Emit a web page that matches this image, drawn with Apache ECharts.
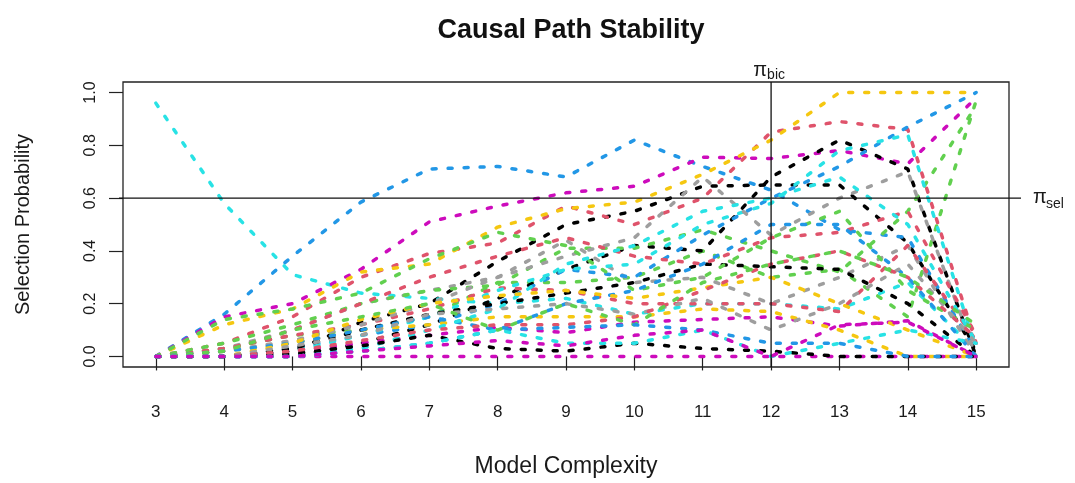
<!DOCTYPE html>
<html>
<head>
<meta charset="utf-8">
<script src="https://cdn.jsdelivr.net/npm/echarts@6/dist/echarts.min.js"></script>
<style>
html,body{margin:0;padding:0;background:#fff;}
#c{width:1075px;height:483px;}
</style>
</head>
<body>
<div id="c"></div>
<script>
// ---- data ----
const complexity = [3, 4, 5, 6, 7, 8, 9, 10, 11, 12, 13, 14, 15];
const yTicks = [0, 0.2, 0.4, 0.6, 0.8, 1.0];
const piBic = 12;
const piSel = 0.6;

// black
const K1 = [0, 0, 0.02, 0.13, 0.2, 0.36, 0.5, 0.55, 0.645, 0.65, 0.65, 0.43, 0.02];
const K2 = [0, 0, 0, 0.05, 0.12, 0.22, 0.33, 0.42, 0.4, 0.68, 0.82, 0.71, 0.0];
const K3 = [0, 0, 0.03, 0.1, 0.16, 0.2, 0.24, 0.28, 0.35, 0.34, 0.33, 0.2, 0.0];
const K4 = [0, 0, 0.01, 0.04, 0.08, 0.03, 0.02, 0.05, 0.03, 0.02, 0.0, 0.0, 0.0];
// red
const R1 = [0, 0.05, 0.15, 0.3, 0.39, 0.43, 0.57, 0.5, 0.6, 0.85, 0.89, 0.86, 0.05];
const R2 = [0, 0.03, 0.08, 0.12, 0.18, 0.26, 0.25, 0.2, 0.2, 0.2, 0.17, 0.42, 0.06];
const R3 = [0, 0.02, 0.1, 0.2, 0.3, 0.38, 0.45, 0.38, 0.35, 0.45, 0.47, 0.55, 0.08];
const R4 = [0, 0, 0.02, 0.06, 0.1, 0.12, 0.12, 0.15, 0.25, 0.35, 0.4, 0.3, 0.07];
// green
const G1 = [0, 0.03, 0.08, 0.1, 0.15, 0.28, 0.28, 0.3, 0.4, 0.3, 0.33, 0.15, 0.97];
const G2 = [0, 0.05, 0.12, 0.2, 0.25, 0.27, 0.41, 0.41, 0.48, 0.4, 0.32, 0.55, 0.95];
const G3 = [0, 0.14, 0.18, 0.24, 0.37, 0.47, 0.42, 0.25, 0.3, 0.45, 0.55, 0.25, 0.1];
const G4 = [0, 0.02, 0.1, 0.15, 0.2, 0.1, 0.2, 0.12, 0.28, 0.35, 0.4, 0.3, 0.12];
// blue
const B1 = [0, 0.16, 0.38, 0.585, 0.71, 0.72, 0.68, 0.82, 0.72, 0.63, 0.48, 0.45, 0.02];
const B2 = [0, 0, 0.03, 0.08, 0.12, 0.2, 0.33, 0.3, 0.46, 0.6, 0.72, 0.87, 1.0];
const B3 = [0, 0.02, 0.05, 0.1, 0.15, 0.1, 0.2, 0.25, 0.35, 0.5, 0.5, 0.3, 0.0];
const B4 = [0, 0, 0, 0.02, 0.05, 0.1, 0.11, 0.12, 0.1, 0.05, 0.05, 0.0, 0.0];
// cyan
const C1 = [0.96, 0.58, 0.31, 0.24, 0.22, 0.2, 0.22, 0.16, 0.2, 0.2, 0.18, 0.28, 0.02];
const C2 = [0, 0, 0.02, 0.08, 0.15, 0.25, 0.33, 0.35, 0.5, 0.58, 0.78, 0.84, 0.03];
const C3 = [0, 0, 0, 0.03, 0.1, 0.18, 0.35, 0.42, 0.55, 0.6, 0.68, 0.5, 0.05];
const C4 = [0, 0, 0, 0.02, 0.05, 0.1, 0.05, 0.05, 0.1, 0.0, 0.05, 0.1, 0.05];
// magenta
const M1 = [0, 0.15, 0.2, 0.33, 0.51, 0.57, 0.62, 0.645, 0.755, 0.75, 0.78, 0.73, 0.98];
const M2 = [0, 0, 0.02, 0.05, 0.08, 0.11, 0.09, 0.13, 0.14, 0.15, 0.115, 0.135, 0.0];
const M3 = [0, 0, 0, 0, 0, 0, 0, 0, 0, 0, 0, 0, 0];
const M4 = [0, 0, 0, 0.02, 0.04, 0.06, 0.04, 0.08, 0.1, 0.0, 0.12, 0.13, 0.0];
// yellow
const Y1 = [0, 0.12, 0.18, 0.32, 0.35, 0.49, 0.56, 0.585, 0.69, 0.82, 1.0, 1.0, 1.0];
const Y2 = [0, 0.02, 0.05, 0.1, 0.12, 0.15, 0.15, 0.15, 0.18, 0.17, 0.1, 0.0, 0.0];
const Y3 = [0, 0, 0.05, 0.14, 0.2, 0.23, 0.25, 0.22, 0.26, 0.3, 0.2, 0.1, 0.0];
// gray
const A1 = [0, 0.03, 0.1, 0.2, 0.25, 0.3, 0.44, 0.28, 0.3, 0.2, 0.3, 0.42, 0.0];
const A2 = [0, 0.02, 0.06, 0.12, 0.2, 0.3, 0.38, 0.45, 0.68, 0.46, 0.6, 0.7, 0.0];
const A3 = [0, 0, 0.04, 0.08, 0.16, 0.18, 0.2, 0.16, 0.22, 0.1, 0.2, 0.35, 0.05];

const palette = {
  K: '#000000', R: '#DF536B', G: '#61D04F', B: '#2297E6',
  C: '#28E2E5', M: '#CD0BBC', Y: '#F5C710', A: '#9E9E9E'
};

const seriesList = [
  ['K1', 'K', K1], ['R1', 'R', R1], ['G1', 'G', G1], ['B1', 'B', B1],
  ['C1', 'C', C1], ['M1', 'M', M1], ['Y1', 'Y', Y1], ['A1', 'A', A1],
  ['K2', 'K', K2], ['R2', 'R', R2], ['G2', 'G', G2], ['B2', 'B', B2],
  ['C2', 'C', C2], ['M2', 'M', M2], ['Y2', 'Y', Y2], ['A2', 'A', A2],
  ['K3', 'K', K3], ['R3', 'R', R3], ['G3', 'G', G3], ['B3', 'B', B3],
  ['C3', 'C', C3], ['M3', 'M', M3], ['Y3', 'Y', Y3], ['A3', 'A', A3],
  ['K4', 'K', K4], ['R4', 'R', R4], ['G4', 'G', G4], ['B4', 'B', B4],
  ['C4', 'C', C4], ['M4', 'M', M4]
];

// ---- chart ----
const FONT = '"Liberation Sans", Arial, sans-serif';
const TXT = '#1a1a1a';
const chart = echarts.init(document.getElementById('c'), null, { renderer: 'canvas' });

const series = seriesList.map(([name, col, vals]) => ({
  name: name,
  type: 'line',
  data: complexity.map((x, i) => [x, vals[i]]),
  showSymbol: false,
  symbol: 'none',
  clip: true,
  lineStyle: { color: palette[col], width: 3.5, type: [4, 12], cap: 'round', join: 'round' },
  emphasis: { disabled: true }
}));

chart.setOption({
  animation: false,
  backgroundColor: '#ffffff',
  title: {
    text: 'Causal Path Stability',
    left: 566, top: 12, textAlign: 'center',
    textStyle: { fontFamily: FONT, fontSize: 27, fontWeight: 'bold', color: '#111' }
  },
  grid: {
    left: 123, right: 66, top: 82, bottom: 111,
    show: true, borderColor: '#222', borderWidth: 1.3, backgroundColor: 'transparent'
  },
  xAxis: {
    type: 'value', min: 2.52, max: 15.48,
    axisLine: { show: false },
    splitLine: { show: false },
    axisTick: { show: true, length: 14, customValues: complexity, lineStyle: { color: '#222', width: 1.2 } },
    axisLabel: { customValues: complexity, margin: 37, fontSize: 17, color: TXT, fontFamily: FONT },
    name: 'Model Complexity', nameLocation: 'middle', nameGap: 88,
    nameTextStyle: { fontSize: 23, color: TXT, fontFamily: FONT }
  },
  yAxis: {
    type: 'value', min: -0.04, max: 1.04,
    axisLine: { show: false },
    splitLine: { show: false },
    axisTick: { show: true, length: 14, customValues: yTicks, lineStyle: { color: '#222', width: 1.2 } },
    axisLabel: {
      customValues: yTicks, rotate: 90, margin: 24, fontSize: 16, color: TXT, fontFamily: FONT,
      formatter: v => Number(v).toFixed(1)
    },
    name: 'Selection Probability', nameLocation: 'middle', nameRotate: 90, nameGap: 90,
    nameTextStyle: { fontSize: 20, color: TXT, fontFamily: FONT }
  },
  series: series
});

// reference lines and labels
const [xL, y06] = chart.convertToPixel({ gridIndex: 0 }, [2.52, piSel]);
const [xR] = chart.convertToPixel({ gridIndex: 0 }, [15.48, piSel]);
const [x12, yTop] = chart.convertToPixel({ gridIndex: 0 }, [piBic, 1.04]);
const [, yBot] = chart.convertToPixel({ gridIndex: 0 }, [piBic, -0.04]);

chart.setOption({
  graphic: [
    { type: 'line', shape: { x1: xL - 4, y1: y06, x2: xR + 12, y2: y06 }, style: { stroke: '#111', lineWidth: 1.3 }, z: 100 },
    { type: 'line', shape: { x1: x12, y1: yTop, x2: x12, y2: yBot }, style: { stroke: '#111', lineWidth: 1.3 }, z: 100 },
    { type: 'text', x: x12 - 4, y: yTop - 12, style: { text: 'π', font: '20px ' + FONT, fill: TXT, align: 'right', verticalAlign: 'middle' }, z: 100 },
    { type: 'text', x: x12 - 4, y: yTop - 7, style: { text: 'bic', font: '14px ' + FONT, fill: TXT, align: 'left', verticalAlign: 'middle' }, z: 100 },
    { type: 'text', x: xR + 24, y: y06 - 1, style: { text: 'π', font: '20px ' + FONT, fill: TXT, align: 'left', verticalAlign: 'middle' }, z: 100 },
    { type: 'text', x: xR + 37, y: y06 + 6, style: { text: 'sel', font: '14px ' + FONT, fill: TXT, align: 'left', verticalAlign: 'middle' }, z: 100 }
  ]
});
</script>
</body>
</html>
